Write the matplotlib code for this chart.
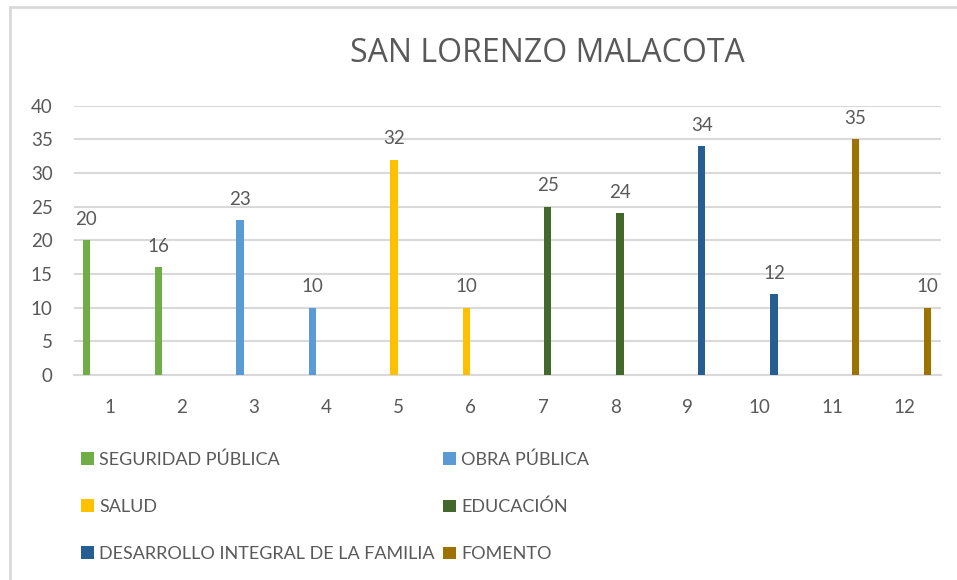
import numpy as np
import matplotlib.pyplot as plt
from matplotlib.lines import Line2D

# -----------------------------
# data
# -----------------------------
categories = [str(i) for i in range(1, 13)]
series_names = ["SEGURIDAD PÚBLICA", "OBRA PÚBLICA", "SALUD", "EDUCACIÓN",
                "DESARROLLO INTEGRAL DE LA FAMILIA", "FOMENTO"]
seguridad = [20, 16, None, None, None, None, None, None, None, None, None, None]
obra = [None, None, 23, 10, None, None, None, None, None, None, None, None]
salud = [None, None, None, None, 32, 10, None, None, None, None, None, None]
educacion = [None, None, None, None, None, None, 25, 24, None, None, None, None]
dif = [None, None, None, None, None, None, None, None, 34, 12, None, None]
fomento = [None, None, None, None, None, None, None, None, None, None, 35, 10]
series_values = [seguridad, obra, salud, educacion, dif, fomento]
colors = ["#70AD47", "#5B9BD5", "#FFC000", "#43682B", "#255E91", "#9E7200"]

text_gray = "#595959"
grid_gray = "#D9D9D9"
W, H = 957, 580

fig = plt.figure(figsize=(W / 100, H / 100), dpi=100)
ax = fig.add_axes([73.5 / W, 205 / H, 867 / W, 269.3 / H])

x = np.arange(len(categories))
step = 0.13
width = 0.10
for k, (name, vals, c) in enumerate(zip(series_names, series_values, colors)):
    offset = (k - 2.5) * step
    v = np.array([np.nan if val is None else val for val in vals], dtype=float)
    mask = ~np.isnan(v)
    bars = ax.bar(x[mask] + offset, v[mask], width=width, color=c, label=name, zorder=3)
    ax.bar_label(bars, labels=[f"{int(val)}" for val in v[mask]], padding=9,
                 fontsize=13.5, color=text_gray, family="Lato")

ax.set_xlim(-0.5, len(categories) - 0.5)
ax.set_ylim(0, 40)
ax.set_yticks(range(0, 41, 5))
ax.set_xticks(x)
ax.set_xticklabels(categories)
ax.yaxis.grid(True, color=grid_gray, linewidth=1.5, zorder=0)
for s in ["top", "right", "left"]:
    ax.spines[s].set_visible(False)
ax.spines["bottom"].set_color(grid_gray)
ax.spines["bottom"].set_linewidth(1.5)
ax.tick_params(axis="both", length=0, labelsize=13.5, labelcolor=text_gray)
ax.tick_params(axis="y", pad=15)
ax.tick_params(axis="x", pad=17)
for lbl in ax.get_xticklabels() + ax.get_yticklabels():
    lbl.set_family("Lato")

fig.text(547 / W, 1 - 53 / H, "SAN LORENZO MALACOTA", ha="center", va="center",
         fontsize=23, color=text_gray, family="Open Sans")

# legend, row-major order like the original
handles, labels = ax.get_legend_handles_labels()
order = [0, 2, 4, 1, 3, 5]
leg = fig.legend([handles[i] for i in order], [labels[i] for i in order],
                 ncol=2, loc="upper left", bbox_to_anchor=(65 / W, 1 - 435 / H),
                 frameon=False, handlelength=0.7, handleheight=0.7,
                 handletextpad=0.3, columnspacing=0.45, labelspacing=1.72,
                 prop={"family": "Lato", "size": 13})
for t in leg.get_texts():
    t.set_color(text_gray)

# chart border (left and top visible in the crop)
fig.add_artist(Line2D([9.5 / W, 9.5 / W], [0, 1 - 7 / H], transform=fig.transFigure,
                      color=grid_gray, linewidth=2))
fig.add_artist(Line2D([9.5 / W, 1], [1 - 7 / H, 1 - 7 / H], transform=fig.transFigure,
                      color=grid_gray, linewidth=2))

fig.savefig("out.png", dpi=100)
